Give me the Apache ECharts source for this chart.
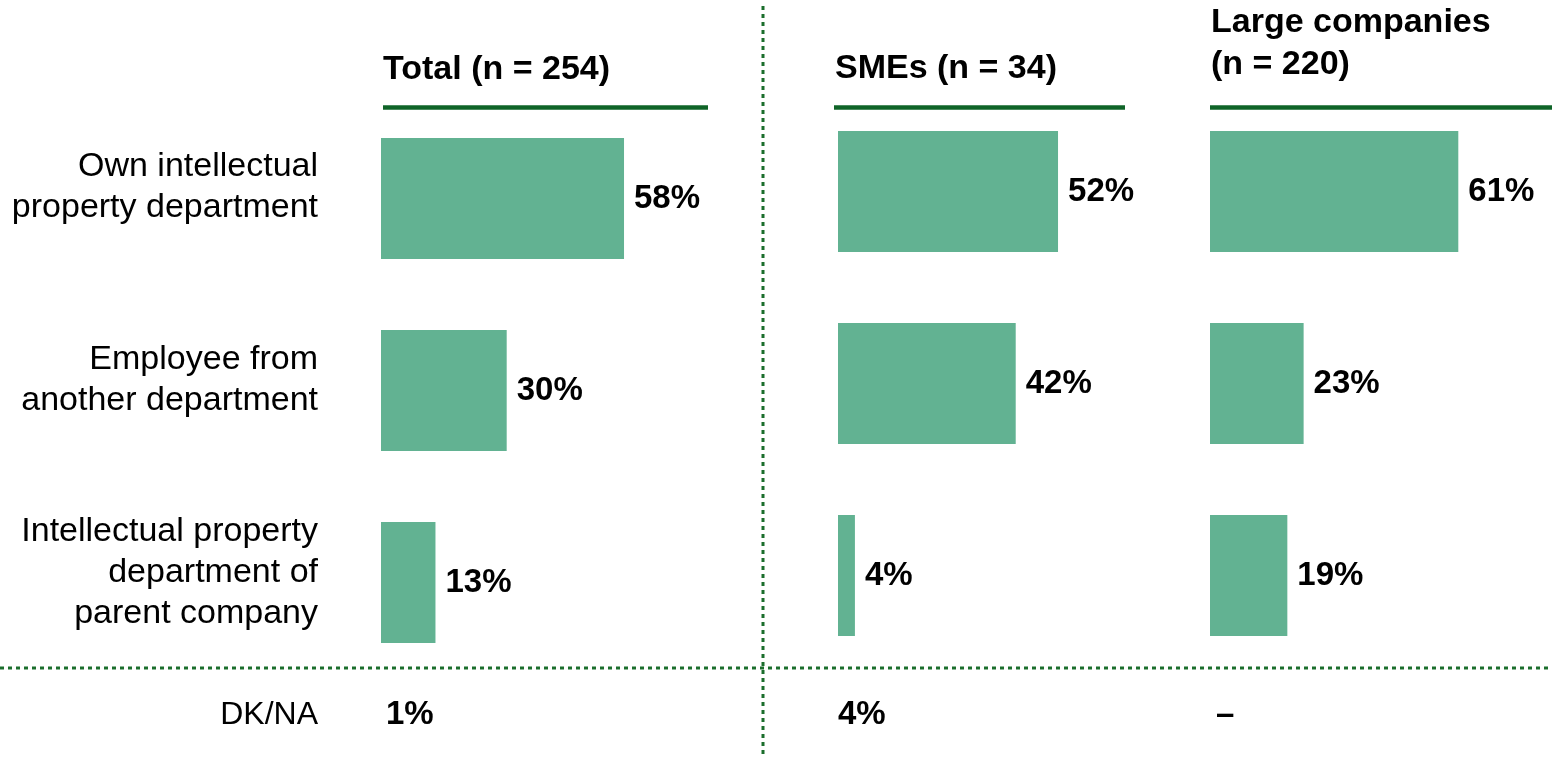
<!DOCTYPE html>
<html>
<head>
<meta charset="utf-8">
<script src="https://cdn.jsdelivr.net/npm/echarts@6/dist/echarts.min.js"></script>
<style>
  html, body { margin: 0; padding: 0; background: #fff; }
  #chart { width: 1552px; height: 758px; }
</style>
</head>
<body>
<div id="chart"></div>
<script>
var categories = ['Own intellectual\nproperty department', 'Employee from\nanother department', 'Intellectual property\ndepartment of\nparent company'];
var totalValues = [58, 30, 13];
var smeValues = [52, 42, 4];
var largeValues = [61, 23, 19];
var panelTitles = ['Total (n = 254)', 'SMEs (n = 34)', 'Large companies\n(n = 220)'];
var dkLabel = 'DK/NA';
var dkValues = ['1%', '4%', '–'];

var font = '"Liberation Sans", Arial, sans-serif';
var barColor = '#62b292';
var darkGreen = '#0f6428';
var dotGreen = '#1b6e2c';

// each panel: grid 300px wide, axis max picked so bar lengths match the source
var panels = [
    {left: 381, max: 71.6, top: 102.5, titleX: 383, titleY: 70, lineX1: 383, lineX2: 708, dkX: 386},
    {left: 838, max: 70.9, top: 95.5, titleX: 835, titleY: 69, lineX1: 834, lineX2: 1125, dkX: 838},
    {left: 1210, max: 73.7, top: 95.5, titleX: 1211, titleY: 44, lineX1: 1210, lineX2: 1552, dkX: 1216}
];
var seriesData = [totalValues, smeValues, largeValues];

var grids = [{left: 318, top: 91, width: 10, height: 577.5}];
var xAxes = [{gridIndex: 0, type: 'value', show: false}];
var yAxes = [{
    gridIndex: 0, type: 'category', inverse: true, data: categories,
    axisLine: {show: false}, axisTick: {show: false}, splitLine: {show: false},
    axisLabel: {
        margin: 0, align: 'right', color: '#000',
        fontFamily: font, fontSize: 34, lineHeight: 41
    }
}];
var series = [];
var graphics = [];

panels.forEach(function (p, i) {
    var gi = i + 1;
    grids.push({left: p.left, top: p.top, width: 300, height: 576});
    xAxes.push({gridIndex: gi, type: 'value', min: 0, max: p.max, show: false});
    yAxes.push({gridIndex: gi, type: 'category', inverse: true, data: categories, show: false});
    series.push({
        type: 'bar',
        xAxisIndex: gi,
        yAxisIndex: gi,
        barWidth: 121,
        data: seriesData[i],
        itemStyle: {color: barColor},
        label: {
            show: true, position: 'right', distance: 10,
            formatter: '{c}%', color: '#000',
            fontFamily: font, fontSize: 33, fontWeight: 'bold'
        },
        silent: true
    });
    graphics.push({
        type: 'text', x: p.titleX, y: p.titleY,
        style: {
            text: panelTitles[i], fill: '#000', font: 'bold 34px ' + font,
            lineHeight: 42, align: 'left', verticalAlign: 'middle'
        }
    });
    graphics.push({
        type: 'line',
        shape: {x1: p.lineX1, y1: 107.5, x2: p.lineX2, y2: 107.5},
        style: {stroke: darkGreen, lineWidth: 4.5}
    });
    graphics.push({
        type: 'text', x: p.dkX, y: 715,
        style: {
            text: dkValues[i], fill: '#000', font: 'bold 33px ' + font,
            align: 'left', verticalAlign: 'middle'
        }
    });
});

graphics.push({
    type: 'text', x: 318, y: 715,
    style: {text: dkLabel, fill: '#000', font: '32px ' + font, align: 'right', verticalAlign: 'middle'}
});
graphics.push({
    type: 'line',
    shape: {x1: 763, y1: 6, x2: 763, y2: 754},
    style: {stroke: dotGreen, lineWidth: 3, lineDash: [4, 4]}
});
graphics.push({
    type: 'line',
    shape: {x1: 0, y1: 668, x2: 1552, y2: 668},
    style: {stroke: dotGreen, lineWidth: 3, lineDash: [4, 4]}
});

var option = {
    backgroundColor: '#fff',
    animation: false,
    grid: grids,
    xAxis: xAxes,
    yAxis: yAxes,
    series: series,
    graphic: graphics
};

var chart = echarts.init(document.getElementById('chart'));
chart.setOption(option);
</script>
</body>
</html>
